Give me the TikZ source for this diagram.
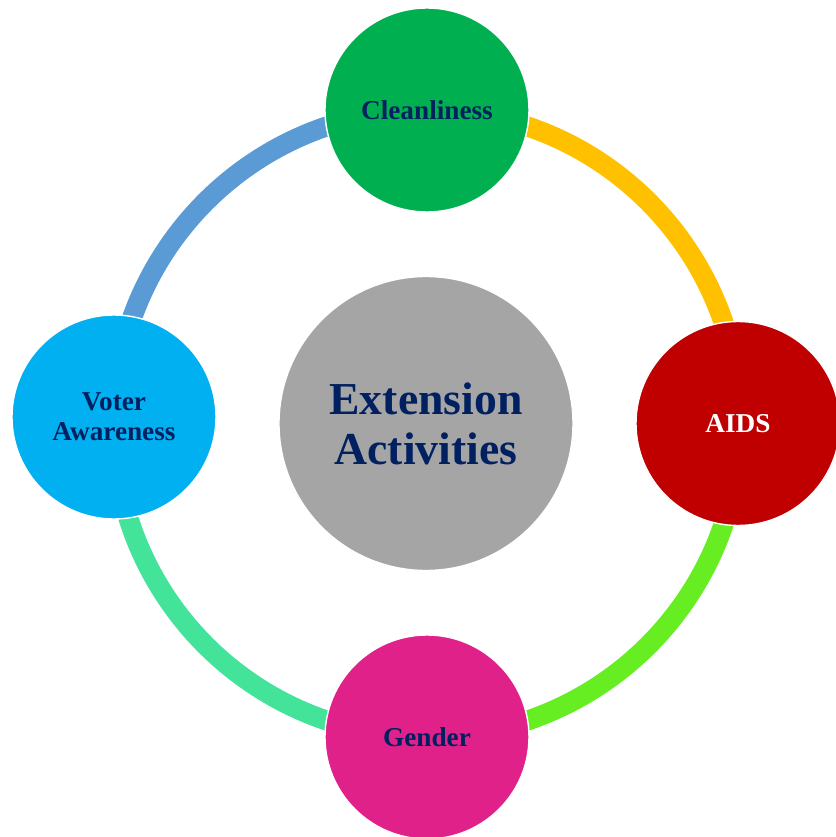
\documentclass[tikz,border=0pt]{standalone}
\usepackage{fontspec}
\setmainfont{Liberation Serif}
\usepackage{tikz}
\usetikzlibrary{backgrounds}

\definecolor{navy}{HTML}{002060}
\definecolor{ringblue}{HTML}{5B9BD5}
\definecolor{ringyellow}{HTML}{FFC000}
\definecolor{ringlime}{HTML}{66EE22}
\definecolor{ringteal}{HTML}{44E39A}
\definecolor{topic1}{HTML}{00B050}
\definecolor{topic2}{HTML}{C00000}
\definecolor{topic3}{HTML}{E0218A}
\definecolor{topic4}{HTML}{00B0F0}
\definecolor{hubgray}{HTML}{A5A5A5}

\tikzset{
  topic/.style={circle,draw=white,line width=0.8pt,minimum size=4.08cm,inner sep=0pt,
    align=center,text=navy,font=\fontsize{15.5}{17}\selectfont\bfseries},
  hub/.style={circle,draw=white,line width=0.8pt,minimum size=5.88cm,fill=hubgray,
    align=center,text=navy,font=\fontsize{26}{28.5}\selectfont\bfseries},
  ring/.style={line width=0.4cm}
}

\begin{document}
\begin{tikzpicture}
\useasboundingbox (-8.52,-8.27) rectangle (8.18,8.47);
\node[hub] (hub) at (0,0) {Extension\\Activities};
\node[topic,fill=topic1] (clean) at (0.02,6.27) {Cleanliness};
\node[topic,fill=topic2,text=white] (aids) at (6.24,0) {AIDS};
\node[topic,fill=topic3] (gender) at (0.02,-6.27) {Gender};
\node[topic,fill=topic4] (voter) at (-6.24,0.13) {Voter\\Awareness};
% ring behind the circles
\begin{scope}[on background layer]
\draw[ring,ringblue] (clean.center) arc (90:180:6.26);
\draw[ring,ringyellow] (clean.center) arc (90:0:6.26);
\draw[ring,ringlime] (gender.center) arc (270:360:6.26);
\draw[ring,ringteal] (gender.center) arc (270:180:6.26);
\end{scope}
\end{tikzpicture}
\end{document}
